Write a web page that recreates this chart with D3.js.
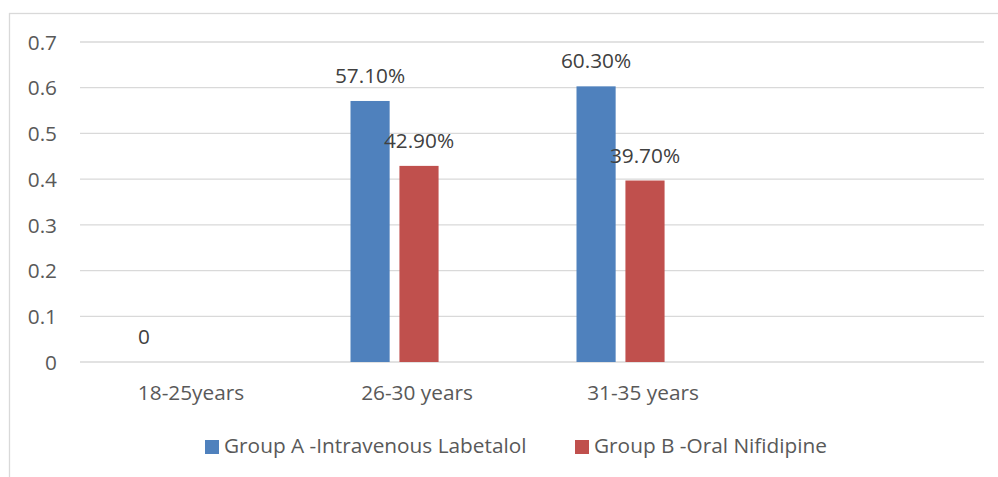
<!DOCTYPE html>
<html>
<head>
<meta charset="utf-8">
<script src="https://cdn.jsdelivr.net/npm/d3@7"></script>
<style>
  html, body { margin: 0; padding: 0; background: #fff; }
  svg { display: block; font-family: "Open Sans", "Noto Sans", sans-serif; }
</style>
</head>
<body>
<svg id="chart" width="998" height="477"></svg>
<script>
// Age groups on the x axis (last slot left blank)
const categories = ["18-25years", "26-30 years", "31-35 years", ""];
// Series names for the legend
const seriesNames = ["Group A -Intravenous Labetalol", "Group B -Oral Nifidipine"];
// Proportion of patients per age group
const groupA = [0, 0.571, 0.603, null];
const groupB = [null, 0.429, 0.397, null];
// Label text shown above each bar
const labelsA = ["0", "57.10%", "60.30%", null];
const labelsB = [null, "42.90%", "39.70%", null];
// Y axis ticks
const yTicks = [0, 0.1, 0.2, 0.3, 0.4, 0.5, 0.6, 0.7];

const colors = ["#4f81bd", "#c0504d"];
const fontSize = 20.8;
const svg = d3.select("#chart");

// Outer chart frame
svg.append("rect")
  .attr("x", 9.5).attr("y", 13.5)
  .attr("width", 1000).attr("height", 500)
  .attr("fill", "none").attr("stroke", "#d9d9d9").attr("stroke-width", 1.3);

const plot = { left: 80, right: 984, top: 42, bottom: 362 };

const x = d3.scaleBand().domain(categories.map((c, i) => i))
  .range([plot.left, plot.right]).paddingInner(0).paddingOuter(0);

// Three cluster slots per category; only the first two carry data
const slotDomain = [0, 1, 2];
const clusterWidth = 137;
const x1 = d3.scaleBand().domain(slotDomain)
  .range([(x.bandwidth() - clusterWidth) / 2, (x.bandwidth() + clusterWidth) / 2])
  .paddingInner(0.2).paddingOuter(0);

const y = d3.scaleLinear().domain([0, 0.7]).range([plot.bottom, plot.top]);

// Gridlines
svg.append("g").selectAll("line").data(yTicks).join("line")
  .attr("x1", plot.left).attr("x2", plot.right)
  .attr("y1", d => y(d)).attr("y2", d => y(d))
  .attr("stroke", "#d9d9d9").attr("stroke-width", 1.3);

// Y axis labels
const yAxis = d3.axisLeft(y).tickValues(yTicks).tickSize(0).tickPadding(0)
  .tickFormat(d => d === 0 ? "0" : d3.format(".1f")(d));
const yg = svg.append("g").attr("transform", `translate(${57},0)`).call(yAxis);
yg.select(".domain").remove();
yg.selectAll("text").attr("font-size", fontSize).attr("fill", "#595959")
  .attr("font-family", "'Open Sans', sans-serif").attr("dy", "0.35em");

// X axis labels
const xAxis = d3.axisBottom(x).tickSize(0).tickPadding(0).tickFormat(i => categories[i]);
const xg = svg.append("g").attr("transform", `translate(-2,${plot.bottom})`).call(xAxis);
xg.select(".domain").remove();
xg.selectAll("text").attr("font-size", fontSize).attr("fill", "#595959")
  .attr("font-family", "'Open Sans', sans-serif").attr("dy", 0).attr("y", 38);

// Bars and labels
const series = [
  { values: groupA, labels: labelsA },
  { values: groupB, labels: labelsB }
];
series.forEach((s, si) => {
  const rows = s.values.map((v, i) => ({ i, v, label: s.labels[i] }));
  svg.append("g").selectAll("rect").data(rows.filter(r => r.v != null && r.v > 0)).join("rect")
    .attr("x", r => x(r.i) + x1(si))
    .attr("width", x1.bandwidth())
    .attr("y", r => y(r.v))
    .attr("height", r => y(0) - y(r.v))
    .attr("fill", colors[si]);
  svg.append("g").selectAll("text").data(rows.filter(r => r.label != null)).join("text")
    .attr("x", r => x(r.i) + x1(si) + x1.bandwidth() / 2)
    .attr("y", r => y(r.v) - 18)
    .attr("text-anchor", "middle")
    .attr("font-size", fontSize)
    .attr("fill", "#404040")
    .text(r => r.label);
});

// Legend
const legendItems = [
  { name: seriesNames[0], x: 205 },
  { name: seriesNames[1], x: 575 }
];
const lg = svg.append("g");
legendItems.forEach((d, i) => {
  lg.append("rect").attr("x", d.x).attr("y", 440).attr("width", 14).attr("height", 14)
    .attr("fill", colors[i]);
  lg.append("text").attr("x", d.x + 19).attr("y", 453)
    .attr("font-size", fontSize).attr("fill", "#595959").text(d.name);
});
</script>
</body>
</html>
